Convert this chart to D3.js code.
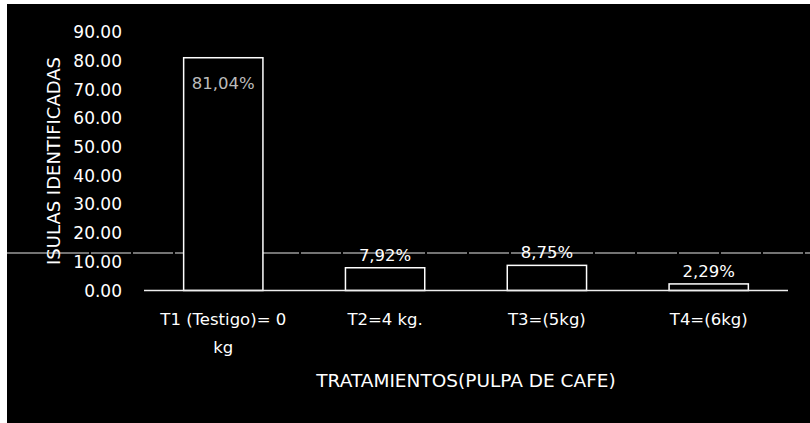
<!DOCTYPE html>
<html>
<head>
<meta charset="utf-8">
<script src="https://cdn.jsdelivr.net/npm/d3@7"></script>
<style>
  html, body { margin: 0; padding: 0; background: #fff; }
  svg text { font-family: "DejaVu Sans", sans-serif; fill: #fff; }
</style>
</head>
<body>
<div id="chart-container"></div>
<script>
var categories = [["T1 (Testigo)= 0", "kg"], ["T2=4 kg."], ["T3=(5kg)"], ["T4=(6kg)"]];
var values = [81.04, 7.92, 8.75, 2.29];
var valueLabels = ["81,04%", "7,92%", "8,75%", "2,29%"];
var yTicks = [0, 10, 20, 30, 40, 50, 60, 70, 80, 90];

var width = 810, height = 423;

var svg = d3.select("#chart-container")
    .append("svg")
      .attr("width", width)
      .attr("height", height);

// black panel, white strip top and left like the scan
svg.append("rect")
    .attr("x", 7).attr("y", 4)
    .attr("width", width - 7).attr("height", height - 4)
    .style("fill", "#000");

var x = d3.scaleBand()
    .domain(d3.range(categories.length))
    .range([144, 788])
    .paddingInner(0.51)
    .paddingOuter(0.245);

var y = d3.scaleLinear()
    .domain([0, 90])
    .range([290.5, 32]);

// y tick labels only
svg.selectAll(".ytick")
    .data(yTicks)
  .enter().append("text")
    .attr("class", "ytick")
    .attr("x", 122)
    .attr("y", function(d) { return y(d); })
    .attr("dy", "0.36em")
    .attr("text-anchor", "end")
    .style("font-size", "17px")
    .text(function(d) { return d3.format(".2f")(d); });

// stray horizontal rule across the scan
svg.append("line")
    .attr("x1", 7).attr("x2", width)
    .attr("y1", 253).attr("y2", 253)
    .style("stroke", "#e6e6e6")
    .style("stroke-width", 1)
    .style("stroke-dasharray", "40,2");

svg.selectAll(".bar")
    .data(values)
  .enter().append("rect")
    .attr("class", "bar")
    .attr("x", function(d, i) { return x(i); })
    .attr("y", function(d) { return y(d); })
    .attr("width", x.bandwidth())
    .attr("height", function(d) { return y(0) - y(d); })
    .style("fill", "#000")
    .style("stroke", "#fff")
    .style("stroke-width", 1.5);

// baseline
svg.append("line")
    .attr("x1", x.range()[0]).attr("x2", x.range()[1])
    .attr("y1", y(0)).attr("y2", y(0))
    .style("stroke", "#eee")
    .style("stroke-width", 1.5);

svg.selectAll(".vlabel")
    .data(values)
  .enter().append("text")
    .attr("class", "vlabel")
    .attr("x", function(d, i) { return x(i) + x.bandwidth() / 2; })
    .attr("y", function(d, i) { return i == 0 ? y(d) + 31 : y(d) - 7; })
    .attr("text-anchor", "middle")
    .style("font-size", "16.5px")
    .style("fill", function(d, i) { return i == 0 ? "#bbb" : "#fff"; })
    .text(function(d, i) { return valueLabels[i]; });

var xl = svg.selectAll(".xtick")
    .data(categories)
  .enter().append("text")
    .attr("class", "xtick")
    .attr("x", function(d, i) { return x(i) + x.bandwidth() / 2; })
    .attr("y", 325)
    .attr("text-anchor", "middle")
    .style("font-size", "16.5px");

xl.selectAll("tspan")
    .data(function(d) { return d; })
  .enter().append("tspan")
    .attr("x", function() { return d3.select(this.parentNode).attr("x"); })
    .attr("dy", function(d, i) { return i ? 28 : 0; })
    .text(function(d) { return d; });

svg.append("text")
    .attr("x", 466)
    .attr("y", 387)
    .attr("text-anchor", "middle")
    .style("font-size", "18.5px")
    .text("TRATAMIENTOS(PULPA DE CAFE)");

svg.append("text")
    .attr("transform", "translate(60,161) rotate(-90)")
    .attr("text-anchor", "middle")
    .style("font-size", "18px")
    .text("ISULAS IDENTIFICADAS");
</script>
</body>
</html>
